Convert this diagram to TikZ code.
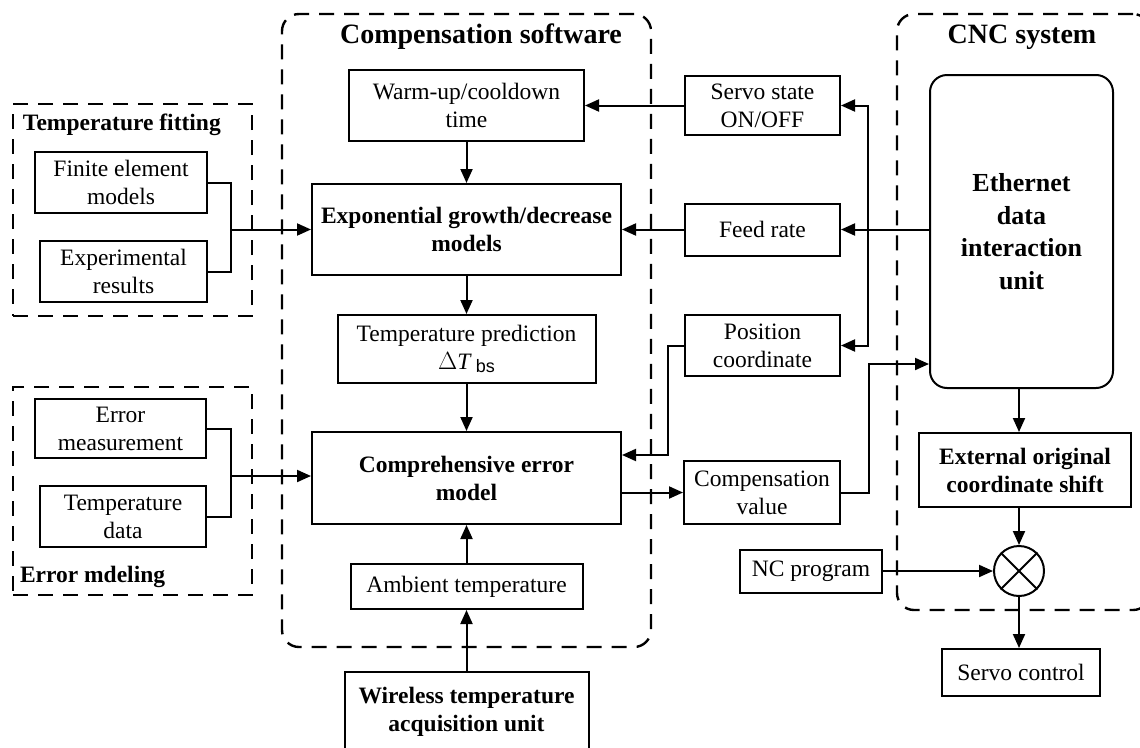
\documentclass[tikz,border=0pt]{standalone}
\usepackage{fontspec}
\setmainfont{Liberation Serif}
\setsansfont{Liberation Sans}
\usetikzlibrary{arrows.meta,calc}
\begin{document}
\begin{tikzpicture}[x=1pt,y=-1pt,
  line width=2pt,
  sz/.style 2 args={minimum width=#1pt, minimum height=#2pt},
  box/.style={draw, rectangle, inner sep=0pt, align=center, font=\fontsize{23.5}{28}\selectfont},
  bbox/.style={box, font=\fontsize{23.5}{28}\selectfont\bfseries},
  grp/.style={draw, dash pattern=on 15pt off 10pt, line width=2.4pt, inner sep=0pt},
  arr/.style={-{Triangle[length=14pt,width=12pt]}},
  ttl/.style={font=\fontsize{28}{32}\selectfont\bfseries, inner sep=0pt},
  gttl/.style={font=\fontsize{23.5}{28}\selectfont\bfseries, inner sep=0pt, anchor=base west},
]
\useasboundingbox (0,0) rectangle (1140,747);
\clip (0,0) rectangle (1140,747);

% groups
\node[grp, sz={239}{212}] (tfg) at (132.5,210) {};
\node[grp, sz={239}{208}] (emg) at (132.5,491) {};
\node[grp, rounded corners=17pt, sz={369}{633}] (csg) at (466.5,330.5) {};
\node[grp, rounded corners=17pt, sz={253}{596}] (cncg) at (1023.5,312) {};

\node[gttl] (tft) at (22,130) {Temperature fitting};
\node[gttl] (emt) at (19,582) {Error mdeling};
\node[ttl] (cst) at (481,37) {Compensation software};
\node[ttl] (cnct) at (1022,37) {CNC system};

% left boxes
\node[box, sz={172}{61}] (fe) at (121,182.5) {Finite element\\models};
\node[box, sz={167}{61}] (exr) at (123.5,271.5) {Experimental\\results};
\node[box, sz={171}{59}] (em) at (120.5,428.5) {Error\\measurement};
\node[box, sz={166}{61}] (td) at (123,516.5) {Temperature\\data};

% middle column
\node[box, sz={235}{71}] (wu) at (466.5,105.5) {Warm-up/cooldown\\time};
\node[bbox, sz={309}{91}] (exp) at (466.5,229.5) {Exponential growth/decrease\\models};
\node[box, sz={258}{68}] (tp) at (466.5,349) {Temperature prediction\\$\Delta$\textit{T}\,\raisebox{-0.35ex}{\fontsize{18}{18}\selectfont\sffamily bs}};
\node[bbox, sz={309}{92}] (cem) at (466.5,478) {Comprehensive error\\model};
\node[box, sz={232}{45}] (amb) at (466.5,586.5) {Ambient temperature};
\node[bbox, sz={244}{80}] (wl) at (466.5,712) {Wireless temperature\\acquisition unit};

% right-middle column
\node[box, sz={155}{59}] (ss) at (762.5,105.5) {Servo state\\ON/OFF};
\node[box, sz={155}{52}] (fr) at (762.5,229.5) {Feed rate};
\node[box, sz={155}{61}] (pc) at (762.5,345.5) {Position\\coordinate};
\node[box, sz={156}{63}] (cv) at (762,492.5) {Compensation\\value};
\node[box, sz={142}{43}] (nc) at (811,571) {NC program};

% CNC
\node[draw, rounded corners=17pt, inner sep=0pt, align=center, sz={183}{313},
      font=\fontsize{26}{32.5}\selectfont\bfseries] (eth) at (1021.5,231.5) {Ethernet\\data\\interaction\\unit};
\node[bbox, sz={212}{74}] (ext) at (1025,470) {External original\\coordinate shift};
\node[draw, circle, minimum size=50pt, inner sep=0pt] (mix) at (1019,571) {};
\draw (mix.north east) -- (mix.south west);
\draw (mix.north west) -- (mix.south east);
\node[box, sz={158}{47}] (sc) at (1021,672.5) {Servo control};

% junction coordinates
\coordinate (j1) at (231,229.5);
\coordinate (j2) at (231,476);
\coordinate (jb) at (868,229.5);
\coordinate (pcturn) at (668,455);
\coordinate (cvturn) at (869,364);

% left connectors
\draw (fe.east) -| (j1);
\draw (exr.east) -| (j1);
\draw[arr] (j1) -- (exp.west |- j1);
\draw (em.east) -| (j2);
\draw (td.east) -| (j2);
\draw[arr] (j2) -- (cem.west |- j2);

% middle column
\draw[arr] (wu.south) -- (exp.north);
\draw[arr] (exp.south) -- (tp.north);
\draw[arr] (tp.south) -- (cem.north);
\draw[arr] (amb.north) -- (cem.south);
\draw[arr] (wl.north) -- (amb.south);

% signals from Ethernet
\draw[arr] (eth.west |- fr.east) -- (fr.east);
\draw[arr] (fr.west) -- (exp.east |- fr.west);
\draw[arr] (jb) |- (ss.east);
\draw[arr] (jb) |- (pc.east);
\draw[arr] (ss.west) -- (wu.east |- ss.west);
\draw[arr] (pc.west) -| (pcturn) -- (cem.east |- pcturn);
\draw[arr] (cem.east |- cv.west) -- (cv.west);
\draw[arr] (cv.east) -| (cvturn) -- (eth.west |- cvturn);

% CNC chain
\draw[arr] (eth.south -| mix) -- (ext.north -| mix);
\draw[arr] (ext.south -| mix) -- (mix.north);
\draw[arr] (nc.east) -- (mix.west);
\draw[arr] (mix.south) -- (sc.north -| mix);
\end{tikzpicture}
\end{document}
